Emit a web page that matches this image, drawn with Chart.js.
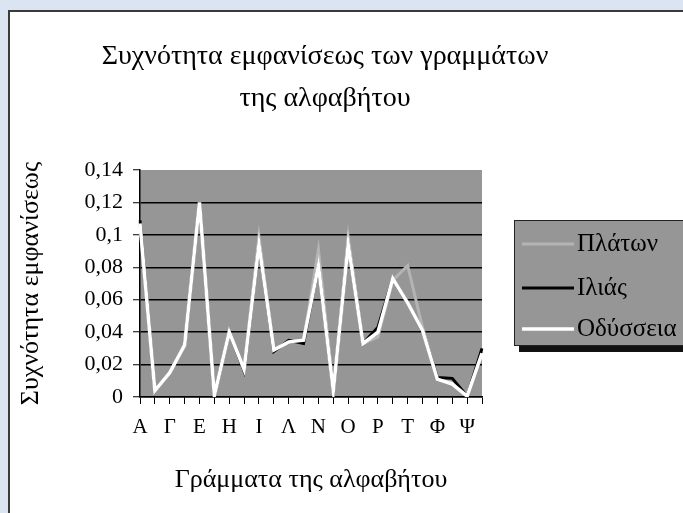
<!DOCTYPE html>
<html>
<head>
<meta charset="utf-8">
<script src="https://cdn.jsdelivr.net/npm/chart.js@4.4.1/dist/chart.umd.min.js"></script>
<style>
  html, body { margin: 0; padding: 0; }
  body { width: 683px; height: 513px; background: #dbe5f1; overflow: hidden; position: relative; }
  #panel { position: absolute; left: 8px; top: 10px; width: 700px; height: 540px;
           background: #fff; border-left: 2px solid #3a3a3a; border-top: 2px solid #3a3a3a; }
  #wrap { position: absolute; left: 0; top: 0; width: 673px; height: 501px; }
</style>
</head>
<body>
<div id="panel"><div id="wrap"><canvas id="chart"></canvas></div></div>
<script>
var letters = ['Α','Β','Γ','Δ','Ε','Ζ','Η','Θ','Ι','Κ','Λ','Μ','Ν','Ξ','Ο','Π','Ρ','Σ','Τ','Υ','Φ','Χ','Ψ','Ω'];
var seriesNames = ['Πλάτων', 'Ιλιάς', 'Οδύσσεια'];

var platon   = [0.107, 0.004, 0.015, 0.032, 0.120, 0.001, 0.040, 0.017, 0.099, 0.029, 0.034, 0.035, 0.091, 0.004, 0.099, 0.033, 0.037, 0.072, 0.081, 0.043, 0.011, 0.009, 0.001, 0.028];
var ilias    = [0.109, 0.004, 0.015, 0.032, 0.120, 0.001, 0.040, 0.016, 0.094, 0.028, 0.035, 0.033, 0.081, 0.004, 0.094, 0.033, 0.043, 0.073, 0.058, 0.041, 0.012, 0.0115, 0.0005, 0.030];
var odysseia = [0.107, 0.004, 0.015, 0.032, 0.120, 0.001, 0.040, 0.017, 0.094, 0.029, 0.034, 0.035, 0.081, 0.004, 0.094, 0.033, 0.040, 0.073, 0.058, 0.041, 0.011, 0.008, 0.0005, 0.027];

var yTicks = [0, 0.02, 0.04, 0.06, 0.08, 0.1, 0.12, 0.14];

var serif = "'Liberation Serif', 'Times New Roman', serif";
var plotGray = '#969696';

// gray plot area
var plotBackground = {
  id: 'plotBackground',
  beforeDraw: function(chart) {
    var a = chart.chartArea, ctx = chart.ctx;
    ctx.save();
    ctx.fillStyle = plotGray;
    ctx.fillRect(a.left, a.top, a.right - a.left, a.bottom - a.top);
    ctx.restore();
  }
};

// two line title, centred a little right of the plot
var titleText = {
  id: 'titleText',
  afterDraw: function(chart) {
    var ctx = chart.ctx;
    ctx.save();
    ctx.fillStyle = '#000';
    ctx.font = '28px ' + serif;
    ctx.textAlign = 'center';
    ctx.textBaseline = 'middle';
    ctx.fillText('Συχνότητα εμφανίσεως των γραμμάτων', 315, 45);
    ctx.fillText('της αλφαβήτου', 315, 87);
    ctx.restore();
  }
};

// boxed legend with shadow, like the spreadsheet original
var boxLegend = {
  id: 'boxLegend',
  afterDraw: function(chart) {
    var ctx = chart.ctx;
    var x = 504, y = 208, w = 180, h = 125;
    ctx.save();
    ctx.fillStyle = '#111';
    ctx.fillRect(x + 5, y + 7, w, h);
    ctx.fillStyle = plotGray;
    ctx.fillRect(x, y, w, h);
    ctx.strokeStyle = '#222';
    ctx.lineWidth = 1;
    ctx.strokeRect(x + 0.5, y + 0.5, w, h);
    var rows = [232, 276, 317];
    ctx.font = '25px ' + serif;
    ctx.textBaseline = 'middle';
    chart.data.datasets.forEach(function(ds, i) {
      ctx.strokeStyle = ds.borderColor;
      ctx.lineWidth = ds.borderWidth;
      ctx.beginPath();
      ctx.moveTo(512, rows[i]);
      ctx.lineTo(564, rows[i]);
      ctx.stroke();
      ctx.fillStyle = '#000';
      ctx.fillText(ds.label, 567, rows[i]);
    });
    ctx.restore();
  }
};

new Chart(document.getElementById('chart'), {
  type: 'line',
  data: {
    labels: letters,
    datasets: [
      { label: seriesNames[0], data: platon,   borderColor: '#b4b4b4', borderWidth: 3,   order: 2 },
      { label: seriesNames[1], data: ilias,    borderColor: '#000000', borderWidth: 3,   order: 1 },
      { label: seriesNames[2], data: odysseia, borderColor: '#ffffff', borderWidth: 3.5, order: 0 }
    ]
  },
  options: {
    responsive: true,
    maintainAspectRatio: false,
    animation: false,
    layout: { padding: { left: 0, right: 201, top: 158, bottom: 16 } },
    elements: {
      line: { tension: 0, fill: false, borderJoinStyle: 'miter' },
      point: { radius: 0, hoverRadius: 0 }
    },
    plugins: {
      legend: { display: false },
      title: { display: false },
      tooltip: { enabled: false }
    },
    scales: {
      x: {
        offset: false,
        grid: { display: true, drawOnChartArea: false, drawTicks: true, tickLength: 7, tickColor: '#000', tickWidth: 1 },
        border: { display: true, color: '#000', width: 1.5 },
        ticks: {
          color: '#000', font: { family: serif, size: 21 }, padding: 11,
          autoSkip: false, maxRotation: 0,
          callback: function(v, i) { return i % 2 === 0 ? letters[i] : ''; }
        },
        title: { display: true, text: 'Γράμματα της αλφαβήτου', color: '#000',
                 font: { family: serif, size: 26 }, padding: { top: 0, bottom: 1.5 } },
        afterFit: function(s) { s.height = 100; }
      },
      y: {
        min: 0, max: 0.14,
        afterBuildTicks: function(s) { s.ticks = yTicks.map(function(v) { return { value: v }; }); },
        grid: {
          drawTicks: true, tickLength: 7, tickColor: '#000', tickWidth: 1, lineWidth: 1.5,
          color: function(c) { return c.tick && c.tick.value >= 0.14 ? 'rgba(0,0,0,0)' : '#000'; }
        },
        border: { display: true, color: '#000', width: 1.5 },
        ticks: {
          color: '#000', font: { family: serif, size: 22 }, padding: 10,
          callback: function(v) { return String(+v.toFixed(2)).replace('.', ','); }
        },
        title: { display: true, text: 'Συχνότητα εμφανίσεως', color: '#000',
                 font: { family: serif, size: 26 }, padding: { top: 6, bottom: 0 } },
        afterFit: function(s) { s.width = 130; }
      }
    }
  },
  plugins: [plotBackground, titleText, boxLegend]
});
</script>
</body>
</html>
